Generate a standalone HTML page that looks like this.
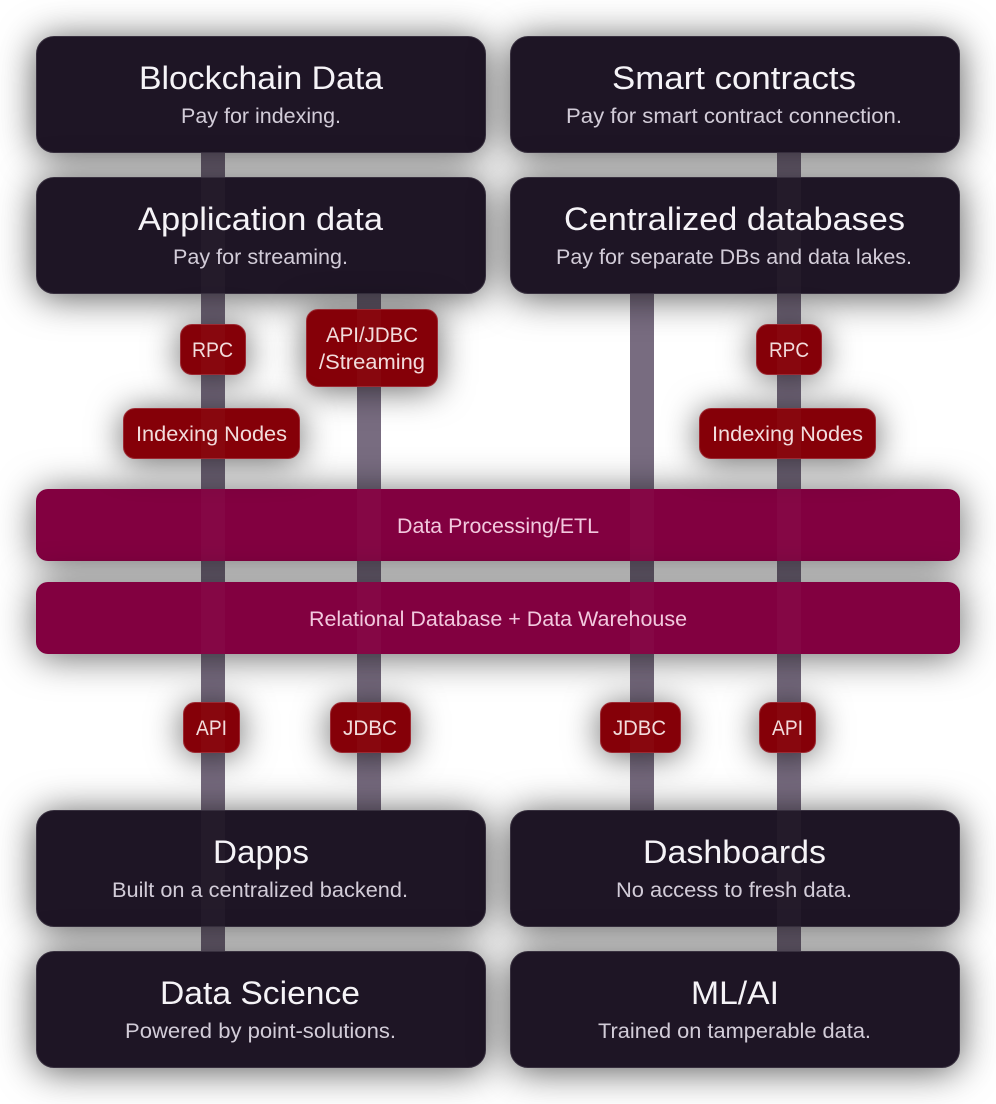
<!DOCTYPE html>
<html>
<head>
<meta charset="utf-8">
<style>
html,body{margin:0;padding:0;background:#fff;}
#c{position:relative;width:996px;height:1104px;overflow:hidden;background:#fff;}
#c div{position:absolute;box-sizing:border-box;}
.bar{width:24px;background:#786c80;}
.box{width:450px;height:117px;border-radius:18px;background:#1e1525;border:1.5px solid #38303f;box-shadow:0 3px 38px rgba(0,0,0,.66);}
.band{left:36px;width:924px;height:72px;border-radius:12px;background:#820040;box-shadow:0 3px 38px rgba(0,0,0,.6);}
.lab{border-radius:12px;background:#850008;border:1.5px solid #9c2a33;box-shadow:0 3px 34px rgba(0,0,0,.6);}
#c .st{width:24px;background:rgba(255,255,255,.028);}
svg{position:absolute;left:0;top:0;}
text{font-family:"Liberation Sans",sans-serif;}
.t{font-size:32px;fill:#f5f3f7;}
.s{font-size:21px;fill:#d2ccd8;}
.l{font-size:21px;fill:#f2dcdc;}
.b{font-size:21px;fill:#f2c8de;}
</style>
</head>
<body>
<div id="c">
<div class="bar" style="left:201px;top:153px;height:798px"></div>
<div class="bar" style="left:357px;top:294px;height:516px"></div>
<div class="bar" style="left:630px;top:294px;height:516px"></div>
<div class="bar" style="left:777px;top:153px;height:798px"></div>

<div class="box" style="left:36px;top:36px"></div>
<div class="box" style="left:510px;top:36px"></div>
<div class="box" style="left:36px;top:177px"></div>
<div class="box" style="left:510px;top:177px"></div>
<div class="box" style="left:36px;top:810px"></div>
<div class="box" style="left:510px;top:810px"></div>
<div class="box" style="left:36px;top:951px"></div>
<div class="box" style="left:510px;top:951px"></div>

<div class="band" style="top:489px"></div>
<div class="band" style="top:582px"></div>

<div class="lab" style="left:180px;top:324px;width:66px;height:51px"></div>
<div class="lab" style="left:306px;top:309px;width:132px;height:78px"></div>
<div class="lab" style="left:123px;top:408px;width:177px;height:51px"></div>
<div class="lab" style="left:756px;top:324px;width:66px;height:51px"></div>
<div class="lab" style="left:699px;top:408px;width:177px;height:51px"></div>
<div class="lab" style="left:183px;top:702px;width:57px;height:51px"></div>
<div class="lab" style="left:330px;top:702px;width:81px;height:51px"></div>
<div class="lab" style="left:600px;top:702px;width:81px;height:51px"></div>
<div class="lab" style="left:759px;top:702px;width:57px;height:51px"></div>

<div class="st" style="left:201px;top:178px;height:115px"></div>
<div class="st" style="left:777px;top:178px;height:115px"></div>
<div class="st" style="left:201px;top:811px;height:115px"></div>
<div class="st" style="left:777px;top:811px;height:115px"></div>
<div class="st" style="left:201px;top:325px;height:49px"></div>
<div class="st" style="left:777px;top:325px;height:49px"></div>
<div class="st" style="left:201px;top:409px;height:49px"></div>
<div class="st" style="left:777px;top:409px;height:49px"></div>
<div class="st" style="left:357px;top:310px;height:76px"></div>
<div class="st" style="left:201px;top:489px;height:72px"></div>
<div class="st" style="left:357px;top:489px;height:72px"></div>
<div class="st" style="left:630px;top:489px;height:72px"></div>
<div class="st" style="left:777px;top:489px;height:72px"></div>
<div class="st" style="left:201px;top:582px;height:72px"></div>
<div class="st" style="left:357px;top:582px;height:72px"></div>
<div class="st" style="left:630px;top:582px;height:72px"></div>
<div class="st" style="left:777px;top:582px;height:72px"></div>
<div class="st" style="left:201px;top:703px;height:49px"></div>
<div class="st" style="left:357px;top:703px;height:49px"></div>
<div class="st" style="left:630px;top:703px;height:49px"></div>
<div class="st" style="left:777px;top:703px;height:49px"></div>

<svg width="996" height="1104" viewBox="0 0 996 1104">
<text class="t" x="139" y="89" textLength="244" lengthAdjust="spacingAndGlyphs">Blockchain Data</text>
<text class="s" x="181" y="123" textLength="160" lengthAdjust="spacingAndGlyphs">Pay for indexing.</text>
<text class="t" x="612" y="89" textLength="244" lengthAdjust="spacingAndGlyphs">Smart contracts</text>
<text class="s" x="566" y="123" textLength="336" lengthAdjust="spacingAndGlyphs">Pay for smart contract connection.</text>
<text class="t" x="138" y="230" textLength="245" lengthAdjust="spacingAndGlyphs">Application data</text>
<text class="s" x="173" y="264" textLength="175" lengthAdjust="spacingAndGlyphs">Pay for streaming.</text>
<text class="t" x="564" y="230" textLength="341" lengthAdjust="spacingAndGlyphs">Centralized databases</text>
<text class="s" x="556" y="264" textLength="356" lengthAdjust="spacingAndGlyphs">Pay for separate DBs and data lakes.</text>
<text class="t" x="213" y="863" textLength="96" lengthAdjust="spacingAndGlyphs">Dapps</text>
<text class="s" x="112" y="897" textLength="296" lengthAdjust="spacingAndGlyphs">Built on a centralized backend.</text>
<text class="t" x="643" y="863" textLength="183" lengthAdjust="spacingAndGlyphs">Dashboards</text>
<text class="s" x="616" y="897" textLength="236" lengthAdjust="spacingAndGlyphs">No access to fresh data.</text>
<text class="t" x="160" y="1004" textLength="200" lengthAdjust="spacingAndGlyphs">Data Science</text>
<text class="s" x="125" y="1038" textLength="271" lengthAdjust="spacingAndGlyphs">Powered by point-solutions.</text>
<text class="t" x="691" y="1004" textLength="88" lengthAdjust="spacingAndGlyphs">ML/AI</text>
<text class="s" x="598" y="1038" textLength="273" lengthAdjust="spacingAndGlyphs">Trained on tamperable data.</text>

<text class="l" x="192" y="357" textLength="41" lengthAdjust="spacingAndGlyphs">RPC</text>
<text class="l" x="326" y="342" textLength="92" lengthAdjust="spacingAndGlyphs">API/JDBC</text>
<text class="l" x="319" y="369" textLength="106" lengthAdjust="spacingAndGlyphs">/Streaming</text>
<text class="l" x="136" y="441" textLength="151" lengthAdjust="spacingAndGlyphs">Indexing Nodes</text>
<text class="l" x="769" y="357" textLength="40" lengthAdjust="spacingAndGlyphs">RPC</text>
<text class="l" x="712" y="441" textLength="151" lengthAdjust="spacingAndGlyphs">Indexing Nodes</text>
<text class="b" x="397" y="533" textLength="202" lengthAdjust="spacingAndGlyphs">Data Processing/ETL</text>
<text class="b" x="309" y="626" textLength="378" lengthAdjust="spacingAndGlyphs">Relational Database + Data Warehouse</text>
<text class="l" x="196" y="735" textLength="31" lengthAdjust="spacingAndGlyphs">API</text>
<text class="l" x="343" y="735" textLength="54" lengthAdjust="spacingAndGlyphs">JDBC</text>
<text class="l" x="613" y="735" textLength="53" lengthAdjust="spacingAndGlyphs">JDBC</text>
<text class="l" x="772" y="735" textLength="31" lengthAdjust="spacingAndGlyphs">API</text>
</svg>
</div>
</body>
</html>
